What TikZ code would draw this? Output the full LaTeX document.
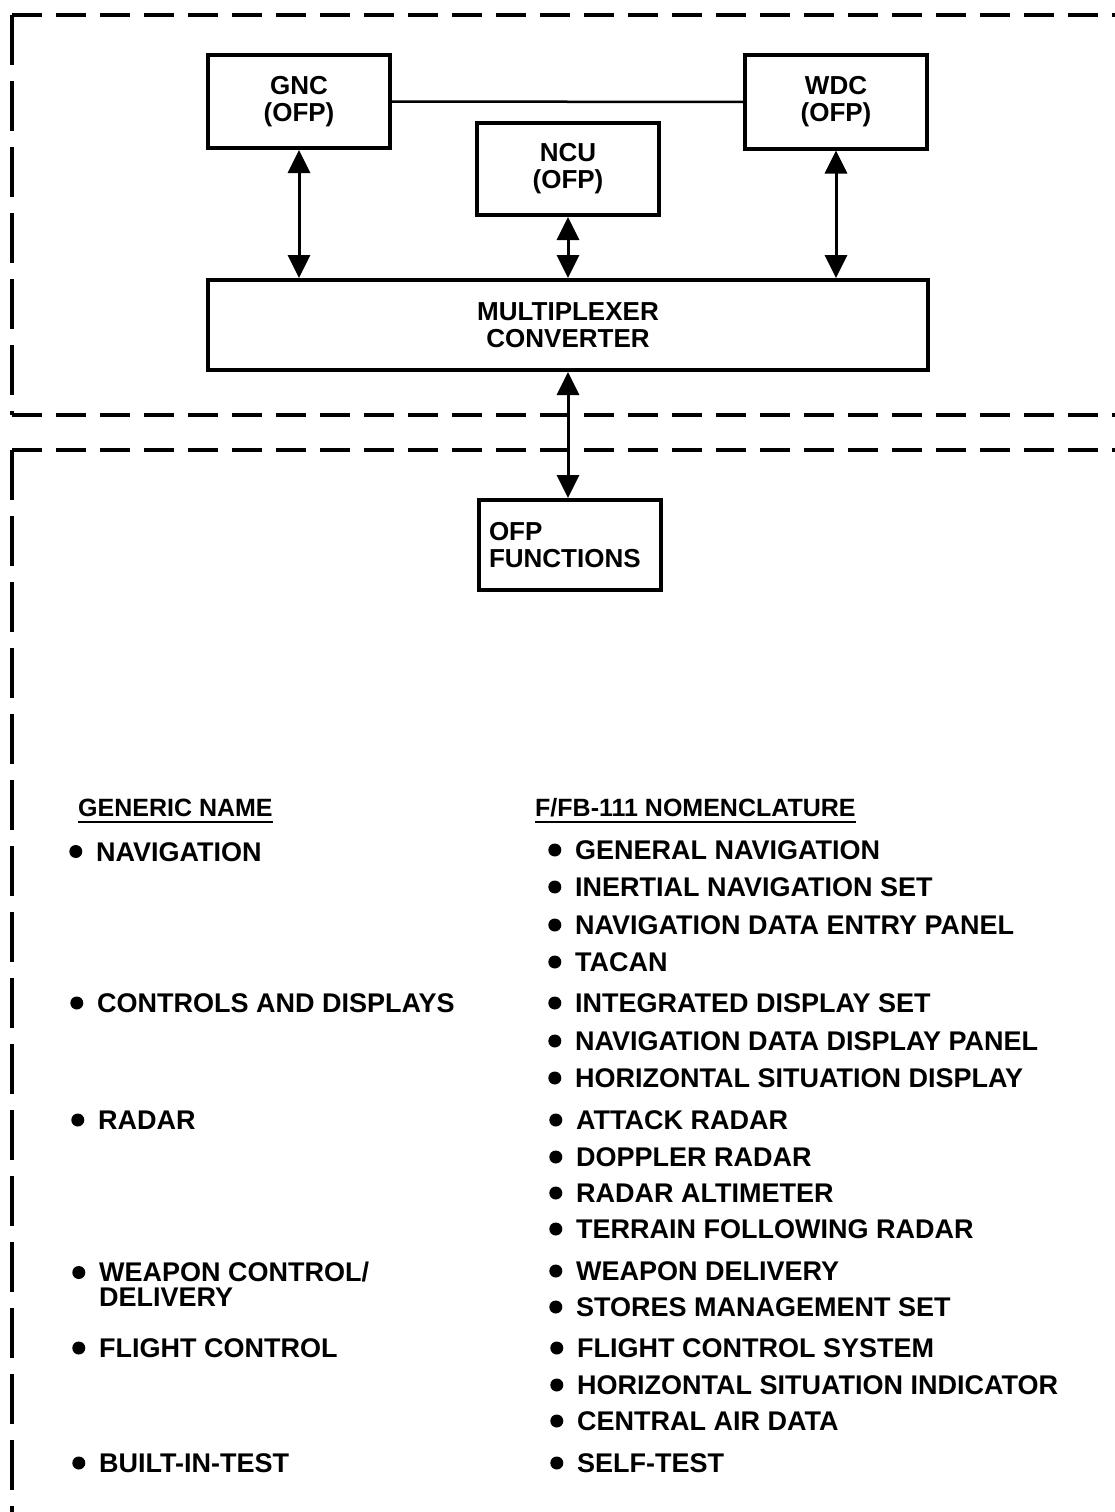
\documentclass[tikz,border=0pt]{standalone}
\usepackage{fontspec}
\setmainfont{Liberation Sans}
\usetikzlibrary{arrows.meta}
\begin{document}
\begin{tikzpicture}[x=1pt,y=-1pt,
  unit/.style={draw,line width=4pt,minimum width=182pt,minimum height=93pt,
    align=center,inner sep=0pt,font=\fontsize{26}{27}\selectfont\bfseries},
  link/.style={line width=3pt,
    {Triangle[width=22pt,length=23pt]}-{Triangle[width=22pt,length=23pt]}},
  bus/.style={line width=2.5pt},
  hframe/.style={line width=3.5pt,dash pattern=on 30pt off 14pt},
  vframe/.style={line width=3.5pt,dash pattern=on 50pt off 16pt},
  dot/.style={circle,fill,inner sep=0pt,minimum size=13pt},
  head/.style={anchor=base west,inner sep=0pt,font=\fontsize{25}{25}\selectfont\bfseries},
  item/.style={anchor=base west,inner sep=0pt,text height=19pt,text depth=0pt,
    font=\fontsize{27}{25}\selectfont\bfseries,
    label={[dot]left:{}}},
  itemtwo/.style={anchor=west,inner sep=0pt,align=left,
    font=\fontsize{27}{25}\selectfont\bfseries,
    label={[dot,yshift=12pt]left:{}}},
  label distance=13.5pt
]
\useasboundingbox (0,0) rectangle (1115,1512);

% dashed frames of the two regions, open to the right
\draw[hframe] (12,15) -- (1125,15);
\draw[vframe] (12,15) -- (12,415);
\draw[hframe] (12,415) -- (1125,415);
\draw[hframe] (12,450) -- (1125,450);
\draw[vframe] (12,450) -- (12,1520);

% processors and the multiplexer
\node[unit] (gnc) at (299,101.5) {GNC\\(OFP)};
\node[unit] (wdc) at (836,102) {WDC\\(OFP)};
\node[unit,minimum height=92pt] (ncu) at (568,169) {NCU\\(OFP)};
\node[unit,minimum width=720pt,minimum height=90pt] (mux) at (568,325) {MULTIPLEXER\\CONVERTER};
\node[unit,minimum height=90pt,align=left,inner xsep=10pt,text width=162pt] (ofp) at (570,545) {OFP\\FUNCTIONS};

% connections
\draw[bus] (gnc.east) -- (wdc.west);
\draw[link] (gnc.south) -- (gnc.south |- mux.north);
\draw[link] (ncu.south) -- (ncu.south |- mux.north);
\draw[link] (wdc.south) -- (wdc.south |- mux.north);
\draw[link] (mux.south) -- (mux.south |- ofp.north);

% headings
\node[head] (gen) at (78,816) {GENERIC NAME};
\node[head] (nom) at (535,816) {F/FB-111 NOMENCLATURE};
\draw[line width=2pt] ([yshift=-6pt]gen.base west) -- ([yshift=-6pt]gen.base east);
\draw[line width=2pt] ([yshift=-6pt]nom.base west) -- ([yshift=-6pt]nom.base east);

% generic names
\node[item] (g1) at (96,861) {NAVIGATION};
\node[item] (g2) at (97,1012.5) {CONTROLS AND DISPLAYS};
\node[item] (g3) at (98,1129.5) {RADAR};
\node[itemtwo] (g4) at (99,1284.5) {WEAPON CONTROL/\\DELIVERY};
\node[item] (g5) at (99,1357.5) {FLIGHT CONTROL};
\node[item] (g6) at (99,1472.5) {BUILT-IN-TEST};

% F/FB-111 nomenclature
\node[item] (n1) at (575,859.5) {GENERAL NAVIGATION};
\node[item] (n2) at (575,896.5) {INERTIAL NAVIGATION SET};
\node[item] (n3) at (575,934.5) {NAVIGATION DATA ENTRY PANEL};
\node[item] (n4) at (575,971.5) {TACAN};
\node[item] (n5) at (575,1012.5) {INTEGRATED DISPLAY SET};
\node[item] (n6) at (575,1050.5) {NAVIGATION DATA DISPLAY PANEL};
\node[item] (n7) at (575,1087.5) {HORIZONTAL SITUATION DISPLAY};
\node[item] (n8) at (576,1129.5) {ATTACK RADAR};
\node[item] (n9) at (576,1166.5) {DOPPLER RADAR};
\node[item] (n10) at (576,1202.5) {RADAR ALTIMETER};
\node[item] (n11) at (576,1238.5) {TERRAIN FOLLOWING RADAR};
\node[item] (n12) at (576,1280.5) {WEAPON DELIVERY};
\node[item] (n13) at (576,1316.5) {STORES MANAGEMENT SET};
\node[item] (n14) at (577,1357.5) {FLIGHT CONTROL SYSTEM};
\node[item] (n15) at (577,1394.5) {HORIZONTAL SITUATION INDICATOR};
\node[item] (n16) at (577,1430.5) {CENTRAL AIR DATA};
\node[item] (n17) at (577,1472.5) {SELF-TEST};
\end{tikzpicture}
\end{document}
